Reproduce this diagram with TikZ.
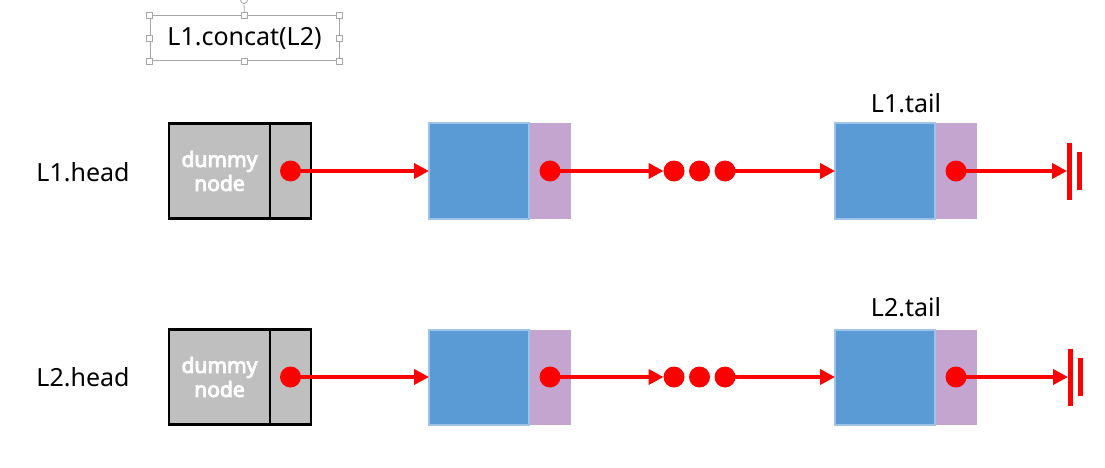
\documentclass[tikz,border=0pt]{standalone}
\usepackage{fontspec}
\setmainfont{Noto Sans}
\newfontfamily\dummyfont{Noto Sans}[FakeBold=4]
\usepackage{tikz}
\usetikzlibrary{positioning,arrows.meta}
\pgfdeclarelayer{background}
\pgfsetlayers{background,main}
\definecolor{boxgray}{HTML}{BFBFBF}
\definecolor{datablue}{HTML}{5B9BD5}
\definecolor{databorder}{HTML}{9DC3E6}
\definecolor{linkpurple}{HTML}{C3A5CF}
\definecolor{handlegray}{HTML}{A6A6A6}
\definecolor{ptrred}{HTML}{FF0000}

\begin{document}
\begin{tikzpicture}[x=1pt, y=-1pt,
    labeltext/.style={font=\fontsize{25}{29}\selectfont, inner sep=0pt},
    dummyleft/.style={draw=black, line width=2.5pt, fill=boxgray, outer sep=0pt, minimum width=101pt, minimum height=95pt,
        inner sep=0pt, align=center, text=white, font=\dummyfont\fontsize{21}{24}\selectfont},
    dummyright/.style={draw=black, line width=2.5pt, fill=boxgray, outer sep=0pt, minimum width=41pt, minimum height=95pt},
    databox/.style={draw=databorder, line width=2pt, fill=datablue, outer sep=0pt, minimum width=100pt, minimum height=95pt},
    linkbox/.style={fill=linkpurple, outer sep=0pt, minimum width=42pt, minimum height=95pt},
    ptrdot/.style={circle, fill=ptrred, minimum size=21pt, inner sep=0pt, outer sep=0pt},
    ptr/.style={draw=ptrred, line width=4pt, -{Triangle[length=15pt, width=15pt]}},
    gnd/.style={draw=ptrred, line width=5pt},
    handle/.style={draw=handlegray, fill=white, line width=0.8pt, minimum size=6pt, inner sep=0pt, outer sep=0pt}]
    \useasboundingbox (0,0) rectangle (1105,468);

    \node [labeltext, draw=handlegray, line width=1pt, minimum width=189pt, minimum height=45pt] (cbox) at (244.5,38.5) {L1.concat(L2)};
    \node [circle, draw=handlegray, line width=0.8pt, minimum size=7pt, inner sep=0pt] (rot) at (244,0) {};
    \draw [handlegray, line width=0.8pt] (cbox.north) -- (rot.south);
    \foreach \a in {north west,north,north east,east,south east,south,south west,west}
        \node [handle] (h \a) at (cbox.\a) {};

    \node [labeltext] (head1) at (83,172) {L1.head};
    \node [dummyleft] (dl1) at (219.5,171) {dummy\\node};
    \node [dummyright, right=0pt of dl1] (dr1) {};
    \node [ptrdot] (dot0) at (dr1) {};
    \node [databox, right=118pt of dr1] (b1) {};
    \begin{pgfonlayer}{background}
        \node [linkbox, right=0pt of b1] (p1) {};
    \end{pgfonlayer}
    \node [ptrdot] (dot1) at (p1) {};
    \node [ptrdot] (m1) at (674,171) {};
    \node [ptrdot, right=4.5pt of m1] (m2) {};
    \node [ptrdot, right=4.5pt of m2] (m3) {};
    \node [databox, right=264pt of p1] (b2) {};
    \begin{pgfonlayer}{background}
        \node [linkbox, right=0pt of b2] (p2) {};
    \end{pgfonlayer}
    \node [ptrdot] (dot2) at (p2) {};
    \node [labeltext] (tail1) at (906,103) {L1.tail};
    \coordinate (g1) at (1069,171);

    \node [labeltext] (head2) at (83,377) {L2.head};
    \node [dummyleft, below=111pt of dl1] (dl2) {dummy\\node};
    \node [dummyright, right=0pt of dl2] (dr2) {};
    \node [ptrdot] (dot3) at (dr2) {};
    \node [databox, right=118pt of dr2] (b3) {};
    \begin{pgfonlayer}{background}
        \node [linkbox, right=0pt of b3] (p3) {};
    \end{pgfonlayer}
    \node [ptrdot] (dot4) at (p3) {};
    \node [ptrdot] (m4) at (674,377) {};
    \node [ptrdot, right=4.5pt of m4] (m5) {};
    \node [ptrdot, right=4.5pt of m5] (m6) {};
    \node [databox, right=264pt of p3] (b4) {};
    \begin{pgfonlayer}{background}
        \node [linkbox, right=0pt of b4] (p4) {};
    \end{pgfonlayer}
    \node [ptrdot] (dot5) at (p4) {};
    \node [labeltext] (tail2) at (906,307) {L2.tail};
    \coordinate (g2) at (1070,377);

    \draw [ptr] (dot0.center) -- (b1.west);
    \draw [ptr] (dot1.center) -- (m1.west);
    \draw [ptr] (m3.center) -- (b2.west);
    \draw [ptr, shorten >=2pt] (dot2.center) -- (g1);
    \draw [gnd] ([yshift=28.5pt]g1) -- ([yshift=-28.5pt]g1);
    \draw [gnd] ([xshift=10pt, yshift=19pt]g1) -- ([xshift=10pt, yshift=-19pt]g1);

    \draw [ptr] (dot3.center) -- (b3.west);
    \draw [ptr] (dot4.center) -- (m4.west);
    \draw [ptr] (m6.center) -- (b4.west);
    \draw [ptr, shorten >=2pt] (dot5.center) -- (g2);
    \draw [gnd] ([yshift=28.5pt]g2) -- ([yshift=-28.5pt]g2);
    \draw [gnd] ([xshift=10pt, yshift=19pt]g2) -- ([xshift=10pt, yshift=-19pt]g2);
\end{tikzpicture}
\end{document}
